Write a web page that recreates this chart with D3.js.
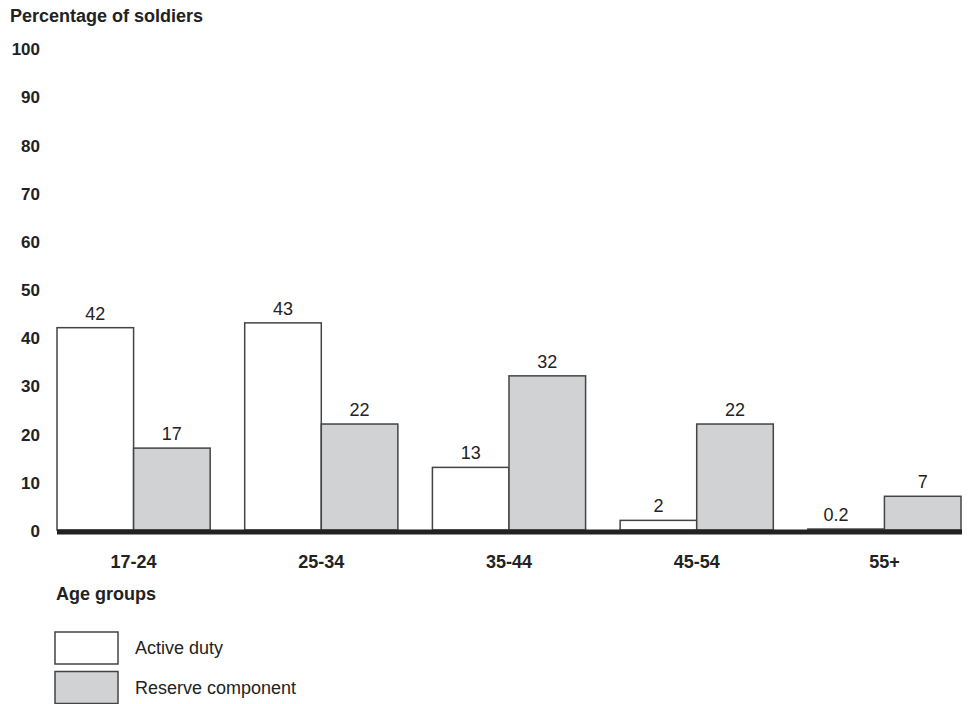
<!DOCTYPE html>
<html>

<head>
  <meta charset="utf-8">
  <title>Percentage of soldiers by age group</title>

  <style>
    body {
      margin: 0;
      background: #fff;
      font-family: "Liberation Sans", Arial, Helvetica, sans-serif;
    }

    svg text {
      fill: #222;
    }

    .bar {
      stroke: #444;
      stroke-width: 1.5px;
    }
  </style>
</head>

<body>
  <svg width="970" height="704"></svg>

  <script src="https://cdn.jsdelivr.net/npm/d3@7"></script>

  <script>
    // data
    var ageGroups = ['17-24', '25-34', '35-44', '45-54', '55+'];
    var activeDuty = [42, 43, 13, 2, 0.2];
    var reserveComponent = [17, 22, 32, 22, 7];
    var yTicks = [0, 10, 20, 30, 40, 50, 60, 70, 80, 90, 100];

    var seriesNames = ['Active duty', 'Reserve component'];
    var seriesColors = ['#ffffff', '#d1d2d4'];

    var svg = d3.select('svg');

    var x0 = d3.scaleBand()
      .domain(ageGroups)
      .range([57, 961])
      .paddingInner(0.184)
      .paddingOuter(0);

    var x1 = d3.scaleBand()
      .domain(seriesNames)
      .range([0, x0.bandwidth()]);

    var y = d3.scaleLinear()
      .domain([0, 100])
      .range([530, 48.3]);

    // build rows for the grouped bars
    var rows = [];
    ageGroups.forEach(function(g, i) {
      rows.push({ group: g, series: seriesNames[0], value: activeDuty[i] });
      rows.push({ group: g, series: seriesNames[1], value: reserveComponent[i] });
    });

    // y axis title
    svg.append('text')
      .attr('x', 10)
      .attr('y', 21.5)
      .attr('font-size', '18px')
      .attr('font-weight', 'bold')
      .text('Percentage of soldiers');

    // y axis: labels only, no line
    var yAxis = svg.append('g')
      .attr('transform', 'translate(40,0)')
      .call(d3.axisLeft(y).tickValues(yTicks).tickSize(0).tickPadding(0));
    yAxis.select('.domain').remove();
    yAxis.selectAll('text')
      .attr('font-family', '"Liberation Sans", Arial, sans-serif')
      .attr('font-size', '17px')
      .attr('font-weight', 'bold')
      .attr('fill', '#222')
      .attr('dy', '0.38em');

    // bars
    svg.append('g')
      .selectAll('rect')
      .data(rows)
      .join('rect')
      .attr('class', 'bar')
      .attr('x', function(d) { return x0(d.group) + x1(d.series); })
      .attr('y', function(d) { return y(d.value); })
      .attr('width', x1.bandwidth())
      .attr('height', function(d) { return y(0) - y(d.value); })
      .attr('fill', function(d) { return seriesColors[seriesNames.indexOf(d.series)]; });

    // value labels
    svg.append('g')
      .selectAll('text')
      .data(rows)
      .join('text')
      .attr('x', function(d) {
        var cx = x0(d.group) + x1(d.series) + x1.bandwidth() / 2;
        return d.value < 1 ? cx - 10 : cx;
      })
      .attr('y', function(d) { return y(d.value) - 8; })
      .attr('text-anchor', 'middle')
      .attr('font-size', '18px')
      .text(function(d) { return d.value; });

    // thick baseline
    svg.append('line')
      .attr('x1', 57)
      .attr('x2', 962)
      .attr('y1', y(0) + 2)
      .attr('y2', y(0) + 2)
      .attr('stroke', '#222')
      .attr('stroke-width', 5);

    // x axis category labels
    var xAxis = svg.append('g')
      .attr('transform', 'translate(0,568)')
      .call(d3.axisBottom(x0).tickSize(0).tickPadding(0));
    xAxis.select('.domain').remove();
    xAxis.selectAll('text')
      .attr('font-family', '"Liberation Sans", Arial, sans-serif')
      .attr('font-size', '18px')
      .attr('font-weight', 'bold')
      .attr('fill', '#222')
      .attr('dy', 0)
      .attr('y', 0);

    svg.append('text')
      .attr('x', 56)
      .attr('y', 600)
      .attr('font-size', '18px')
      .attr('font-weight', 'bold')
      .text('Age groups');

    // legend
    var legend = svg.append('g')
      .selectAll('g')
      .data(seriesNames)
      .join('g')
      .attr('transform', function(d, i) { return 'translate(55,' + (632 + i * 39.5) + ')'; });

    legend.append('rect')
      .attr('class', 'bar')
      .attr('width', 63)
      .attr('height', 32)
      .attr('fill', function(d, i) { return seriesColors[i]; });

    legend.append('text')
      .attr('x', 80)
      .attr('y', 22)
      .attr('font-size', '18px')
      .text(function(d) { return d; });
  </script>
</body>

</html>
